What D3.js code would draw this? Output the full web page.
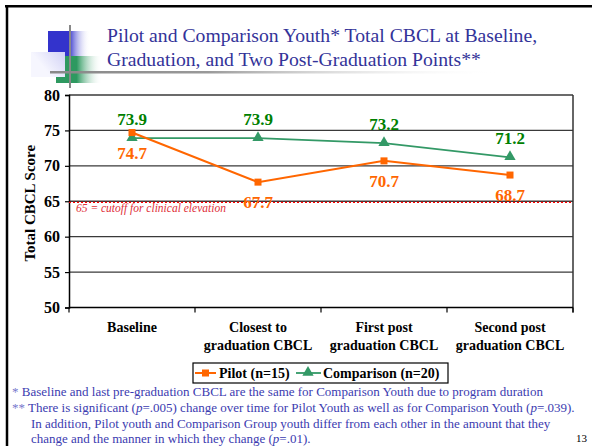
<!DOCTYPE html>
<html><head><meta charset="utf-8">
<script src="https://cdn.jsdelivr.net/npm/d3@7"></script>
<style>
html,body{margin:0;padding:0;background:#fff;}
svg{display:block;font-family:"Liberation Serif","Times New Roman",serif;}
</style></head>
<body>
<svg id="c" width="592" height="446"></svg>
<script>
const categories = ["Baseline", "Closest to\ngraduation CBCL", "First post\ngraduation CBCL", "Second post\ngraduation CBCL"];
const pilotValues = [74.7, 67.7, 70.7, 68.7];
const comparisonValues = [73.9, 73.9, 73.2, 71.2];
const yTicks = [50, 55, 60, 65, 70, 75, 80];
const cutoffValue = 64.85;
const seriesNames = ["Pilot (n=15)", "Comparison (n=20)"];
const titleLines = ["Pilot and Comparison Youth* Total CBCL at Baseline,", "Graduation, and Two Post-Graduation Points**"];

const svg = d3.select("#c");
const defs = svg.append("defs");

// page border
svg.append("line").attr("x1",5).attr("x2",592).attr("y1",6.2).attr("y2",6.2).attr("stroke","#000").attr("stroke-width",2.5);
svg.append("line").attr("x1",7).attr("x2",7).attr("y1",5).attr("y2",446).attr("stroke","#000").attr("stroke-width",2.5);

// logo
function grad(id, stops, x2, y2){
  const g = defs.append("linearGradient").attr("id",id).attr("x1","0").attr("y1","0").attr("x2",x2||"1").attr("y2",y2||"0");
  stops.forEach(s=>g.append("stop").attr("offset",s[0]).attr("stop-color",s[1]).attr("stop-opacity",s[2]==null?1:s[2]));
}
grad("gBlue",[[0,"#3333cc"],[0.5,"#3333cc"],[1,"#ffffff",0]]);
grad("gGreen",[[0,"#2e9960"],[0.45,"#2e9960"],[1,"#ffffff",0]]);
grad("gLav",[[0,"#f6f6fe"],[1,"#c4c4f2"]],"1","-0.6");
grad("gLine",[[0,"#888"],[0.35,"#999"],[1,"#fff",0]]);
const logo = svg.append("g");
logo.append("rect").attr("x",48).attr("y",31).attr("width",42).attr("height",25).attr("fill","url(#gBlue)");
logo.append("rect").attr("x",56).attr("y",56).attr("width",46).attr("height",27).attr("fill","url(#gGreen)");
logo.append("rect").attr("x",31).attr("y",52).attr("width",34).attr("height",25).attr("fill","url(#gLav)");
logo.append("rect").attr("x",50).attr("y",71).attr("width",450).attr("height",2.5).attr("fill","url(#gLine)");
logo.append("rect").attr("x",69).attr("y",25).attr("width",2).attr("height",63).attr("fill","#888");

// title
svg.append("g").selectAll("text").data(titleLines).join("text")
  .attr("x",107).attr("y",(d,i)=>42+i*24)
  .attr("font-family","Liberation Serif").attr("font-size",19.7).attr("fill","#333399").text(d=>d);

// scales
const x = d3.scaleBand().domain(categories).range([69,573]).padding(0);
const y = d3.scaleLinear().domain([50,80]).range([307.5,95]);
const cx = d => x(d) + x.bandwidth()/2;

// gridlines
svg.append("g").selectAll("line").data(yTicks.filter(t=>t>50)).join("line")
  .attr("x1",x.range()[0]).attr("x2",x.range()[1]).attr("y1",d=>y(d)).attr("y2",d=>y(d))
  .attr("stroke","#3a3a3a").attr("stroke-width",1.3);
// right border
svg.append("line").attr("x1",x.range()[1]).attr("x2",x.range()[1]).attr("y1",y(80)).attr("y2",y(50)+5)
  .attr("stroke","#333").attr("stroke-width",1.5);

// y axis
const yAxis = svg.append("g").attr("transform",`translate(${x.range()[0]},0)`)
  .call(d3.axisLeft(y).tickValues(yTicks).tickSize(4).tickPadding(5).tickFormat(d3.format("d")));
yAxis.select(".domain").attr("stroke","#000").attr("stroke-width",1.5);
yAxis.selectAll(".tick line").attr("stroke","#000").attr("stroke-width",1.2);
yAxis.selectAll("text").attr("font-family","Liberation Serif").attr("font-weight","bold").attr("font-size",16).attr("fill","#000");

// x axis
svg.append("line").attr("x1",x.range()[0]).attr("x2",x.range()[1]).attr("y1",y(50)).attr("y2",y(50)).attr("stroke","#000").attr("stroke-width",1.5);
const bounds = categories.map(c=>x(c)).concat([x.range()[1]]);
svg.append("g").selectAll("line").data(bounds).join("line")
  .attr("x1",d=>d).attr("x2",d=>d).attr("y1",y(50)).attr("y2",y(50)+5).attr("stroke","#000").attr("stroke-width",1.2);
const xl = svg.append("g").selectAll("text").data(categories).join("text")
  .attr("text-anchor","middle").attr("font-weight","bold").attr("font-size",14).attr("fill","#000");
xl.each(function(d){
  const t = d3.select(this);
  d.split("\n").forEach((s,i)=>t.append("tspan").attr("x",cx(d)).attr("y",332+i*18).text(s));
});

// y axis title
svg.append("text").attr("transform",`translate(35,${(y(50)+y(80))/2+2}) rotate(-90)`)
  .attr("text-anchor","middle").attr("font-weight","bold").attr("font-size",15).attr("fill","#000")
  .text("Total CBCL Score");

// cutoff line
svg.append("line").attr("x1",x.range()[0]).attr("x2",x.range()[1]).attr("y1",y(cutoffValue)).attr("y2",y(cutoffValue))
  .attr("stroke","#ff0000").attr("stroke-width",1.2).attr("stroke-dasharray","2,2");
svg.append("text").attr("x",76).attr("y",y(cutoffValue)+9.5).attr("font-style","italic").attr("font-size",11.5)
  .attr("fill","#e0303a").text("65 = cutoff for clinical elevation");

// series
const pilotColor = "#ff6600", compColor = "#339966", compText = "#008000";
const line = d3.line().x((d,i)=>cx(categories[i])).y(d=>y(d));
svg.append("path").attr("d",line(comparisonValues)).attr("fill","none").attr("stroke",compColor).attr("stroke-width",1.8);
svg.append("path").attr("d",line(pilotValues)).attr("fill","none").attr("stroke",pilotColor).attr("stroke-width",2);
const tri = d3.symbol().type(d3.symbolTriangle).size(55);
svg.append("g").selectAll("path").data(comparisonValues).join("path")
  .attr("d",tri).attr("transform",(d,i)=>`translate(${cx(categories[i])},${y(d)-0.5})`).attr("fill",compColor);
svg.append("g").selectAll("rect").data(pilotValues).join("rect")
  .attr("x",(d,i)=>cx(categories[i])-3.5).attr("y",d=>y(d)-3.5).attr("width",7).attr("height",7).attr("fill",pilotColor);

// data labels
svg.append("g").selectAll("text").data(comparisonValues).join("text")
  .attr("x",(d,i)=>cx(categories[i])).attr("y",d=>y(d)-13)
  .attr("text-anchor","middle").attr("font-weight","bold").attr("font-size",17).attr("fill",compText)
  .text(d=>d.toFixed(1));
svg.append("g").selectAll("text").data(pilotValues).join("text")
  .attr("x",(d,i)=>cx(categories[i])).attr("y",d=>y(d)+26)
  .attr("text-anchor","middle").attr("font-weight","bold").attr("font-size",17).attr("fill",pilotColor)
  .text(d=>d.toFixed(1));

// legend
const lg = svg.append("g");
lg.append("rect").attr("x",193).attr("y",363).attr("width",255).attr("height",20).attr("fill","#fff").attr("stroke","#000").attr("stroke-width",1.2);
lg.append("line").attr("x1",195).attr("x2",216).attr("y1",373).attr("y2",373).attr("stroke",pilotColor).attr("stroke-width",2);
lg.append("rect").attr("x",202).attr("y",369.5).attr("width",7).attr("height",7).attr("fill",pilotColor);
lg.append("text").attr("x",219).attr("y",378).attr("font-weight","bold").attr("font-size",14).text(seriesNames[0]);
lg.append("line").attr("x1",296).attr("x2",321).attr("y1",373).attr("y2",373).attr("stroke",compColor).attr("stroke-width",1.8);
lg.append("path").attr("d",tri).attr("transform","translate(308,372.5)").attr("fill",compColor);
lg.append("text").attr("x",323).attr("y",378).attr("font-weight","bold").attr("font-size",14).text(seriesNames[1]);

// footnotes
const fn = svg.append("g").attr("font-size",13).attr("fill","#3b3bb0");
const f1 = fn.append("text").attr("x",12).attr("y",396);
f1.append("tspan").attr("fill","#7777cc").text("* ");
f1.append("tspan").text("Baseline and last pre-graduation CBCL are the same for Comparison Youth due to program duration");
const f2 = fn.append("text").attr("x",12).attr("y",412);
f2.append("tspan").attr("fill","#7777cc").text("** ");
f2.append("tspan").text("There is significant (");
f2.append("tspan").attr("font-style","italic").text("p");
f2.append("tspan").text("=.005) change over time for Pilot Youth as well as for Comparison Youth (");
f2.append("tspan").attr("font-style","italic").text("p");
f2.append("tspan").text("=.039).");
fn.append("text").attr("x",31).attr("y",428).text("In addition, Pilot youth and Comparison Group youth differ from each other in the amount that they");
const f4 = fn.append("text").attr("x",31).attr("y",443);
f4.append("tspan").text("change and the manner in which they change (");
f4.append("tspan").attr("font-style","italic").text("p");
f4.append("tspan").text("=.01).");

svg.append("text").attr("x",587).attr("y",442).attr("text-anchor","end").attr("font-size",11).attr("fill","#000").text("13");
</script>
</body></html>
